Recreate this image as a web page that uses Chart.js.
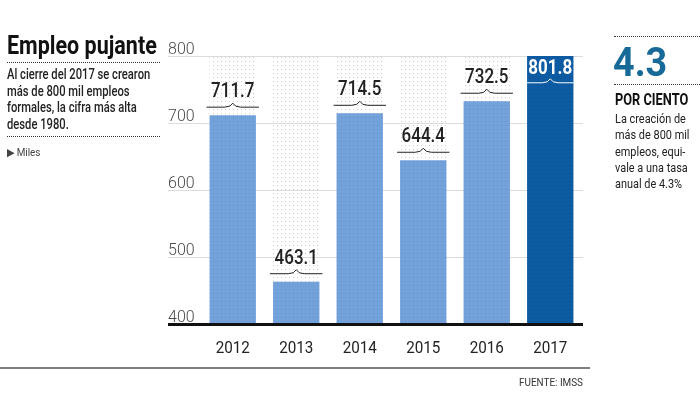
<!DOCTYPE html>
<html>
<head>
<meta charset="utf-8">
<script src="https://cdn.jsdelivr.net/npm/chart.js@4"></script>
<style>
  body { margin: 0; background: #fff; }
  #wrap { position: relative; width: 700px; height: 393px; overflow: hidden; font-family: Roboto, "Noto Sans", sans-serif; color: #222; }
  #c { position: absolute; left: 0; top: 0; }
  .sq { position: absolute; white-space: nowrap; transform-origin: 0 0; }
  .dots { position: absolute; height: 0; border-top: 1.5px dotted #333; }
</style>
</head>
<body>
<div id="wrap">
  <canvas id="c" width="700" height="393"></canvas>

  <!-- left panel -->
  <div class="sq" style="left:7px; top:31px; font-size:25px; font-weight:700; transform:scaleX(0.86); color:#111;">Empleo pujante</div>
  <div class="dots" style="left:7px; top:62px; width:153px;"></div>
  <div class="sq" style="left:7px; top:66px; font-size:14px; font-weight:500; line-height:16.5px; transform:scaleX(0.8); color:#222;">
    Al cierre del 2017 se crearon<br>más de 800 mil empleos<br>formales, la cifra más alta<br>desde 1980.
  </div>
  <div class="dots" style="left:7px; top:136px; width:153px;"></div>
  <div class="sq" style="left:7px; top:146px; font-size:11px; color:#444; transform:scaleX(0.9);">&#9654; Miles</div>

  <!-- right panel -->
  <div class="dots" style="left:614px; top:36px; width:86px;"></div>
  <div class="sq" style="left:613px; top:38px; font-size:41px; font-weight:700; color:#176a98; transform:scaleX(0.92);">4.3</div>
  <div class="dots" style="left:614px; top:84px; width:86px;"></div>
  <div class="sq" style="left:615px; top:90px; font-size:16px; font-weight:700; color:#111; transform:scaleX(0.8);">POR CIENTO</div>
  <div class="sq" style="left:615px; top:111px; font-size:13px; line-height:16.3px; color:#222; transform:scaleX(0.84);">
    La creación de<br>más de 800 mil<br>empleos, equi-<br>vale a una tasa<br>anual de 4.3%
  </div>
</div>

<script>
// data
const years = ["2012", "2013", "2014", "2015", "2016", "2017"];
const empleos = [711.7, 463.1, 714.5, 644.4, 732.5, 801.8];
const yTicks = [400, 500, 600, 700, 800];
const fuente = "FUENTE: IMSS";

const yMin = yTicks[0];
const yMax = yTicks[yTicks.length - 1];

// small dotted fill patterns
function dotPattern(base, dot) {
  const p = document.createElement("canvas");
  p.width = 4; p.height = 4;
  const g = p.getContext("2d");
  if (base) { g.fillStyle = base; g.fillRect(0, 0, 4, 4); }
  g.fillStyle = dot;
  g.fillRect(1, 1, 1, 1);
  return g.createPattern(p, "repeat");
}

const ctx = document.getElementById("c").getContext("2d");
const lightBar = dotPattern("#73a2db", "#6592cc");
const darkBar = dotPattern("#0d5ba2", "#0a5091");
const backFill = dotPattern(null, "#cdcdcd");

function condensedText(c, txt, x, y, sx) {
  c.save();
  c.translate(x, y);
  c.scale(sx, 1);
  c.fillText(txt, 0, 0);
  c.restore();
}

// gridlines, y labels and baseline
const axisPlugin = {
  id: "axisPlugin",
  beforeDatasetsDraw(chart) {
    const c = chart.ctx;
    const ys = chart.scales.y;
    const right = chart.chartArea.right + 1;
    const left = 168;
    c.save();
    yTicks.forEach(v => {
      const py = Math.round(ys.getPixelForValue(v)) + 0.5;
      if (v !== yMin) {
        c.strokeStyle = "#dcdcdc";
        c.lineWidth = 1;
        c.beginPath(); c.moveTo(left, py); c.lineTo(right, py); c.stroke();
      }
      c.fillStyle = "#4a4a4a";
      c.font = "300 16px Roboto";
      c.textAlign = "left";
      c.textBaseline = "alphabetic";
      c.fillText(String(v), left, py - 3);
    });
    c.restore();
  },
  afterDatasetsDraw(chart) {
    const c = chart.ctx;
    const ys = chart.scales.y;
    const xs = chart.scales.x;
    const base = ys.getPixelForValue(yMin);
    c.save();
    // baseline
    c.strokeStyle = "#111";
    c.lineWidth = 3;
    c.beginPath(); c.moveTo(168, base + 0.5); c.lineTo(chart.chartArea.right + 1, base + 0.5); c.stroke();

    // x labels
    c.fillStyle = "#222";
    c.font = "16px Roboto";
    c.textAlign = "center";
    years.forEach((yr, i) => {
      condensedText(c, yr, xs.getPixelForValue(i), base + 29, 0.95);
    });

    // value labels with brace
    const meta = chart.getDatasetMeta(0);
    meta.data.forEach((bar, i) => {
      const inside = bar.y < chart.chartArea.top + 30;
      const col = inside ? "#fff" : "#222";
      const textY = inside ? bar.y + 19 : bar.y - 18;
      const braceY = inside ? bar.y + 28 : bar.y - 8;
      const half = bar.width / 2 + (inside ? 0 : 3);
      c.fillStyle = col;
      c.font = (inside ? "700 " : "500 ") + "20px Roboto";
      c.textAlign = "center";
      condensedText(c, empleos[i].toFixed(1), bar.x, textY, 0.85);
      c.strokeStyle = col;
      c.lineWidth = 1;
      c.beginPath();
      c.moveTo(bar.x - half, braceY);
      c.lineTo(bar.x - 8, braceY);
      c.quadraticCurveTo(bar.x - 2, braceY, bar.x, braceY - 4);
      c.quadraticCurveTo(bar.x + 2, braceY, bar.x + 8, braceY);
      c.lineTo(bar.x + half, braceY);
      c.stroke();
    });

    // source line and text
    c.strokeStyle = "#555";
    c.lineWidth = 1.5;
    c.beginPath(); c.moveTo(0, 368); c.lineTo(590, 368); c.stroke();
    c.fillStyle = "#333";
    c.font = "11px Roboto";
    c.textAlign = "right";
    condensedText(c, fuente, 583, 386, 0.9);
    c.restore();
  }
};

new Chart(ctx, {
  type: "bar",
  data: {
    labels: years,
    datasets: [
      {
        label: "Empleos",
        data: empleos,
        backgroundColor: empleos.map((v, i) => i === empleos.length - 1 ? darkBar : lightBar),
        grouped: false,
        barPercentage: 0.73,
        categoryPercentage: 1
      },
      {
        label: "fondo",
        data: years.map(() => yMax),
        backgroundColor: backFill,
        grouped: false,
        barPercentage: 0.73,
        categoryPercentage: 1
      }
    ]
  },
  options: {
    responsive: false,
    animation: false,
    layout: { padding: { left: 201, right: 118, top: 56, bottom: 69 } },
    plugins: { legend: { display: false }, tooltip: { enabled: false } },
    scales: {
      x: { display: false },
      y: { display: false, min: yMin, max: yMax }
    }
  },
  plugins: [axisPlugin]
});
</script>
</body>
</html>
